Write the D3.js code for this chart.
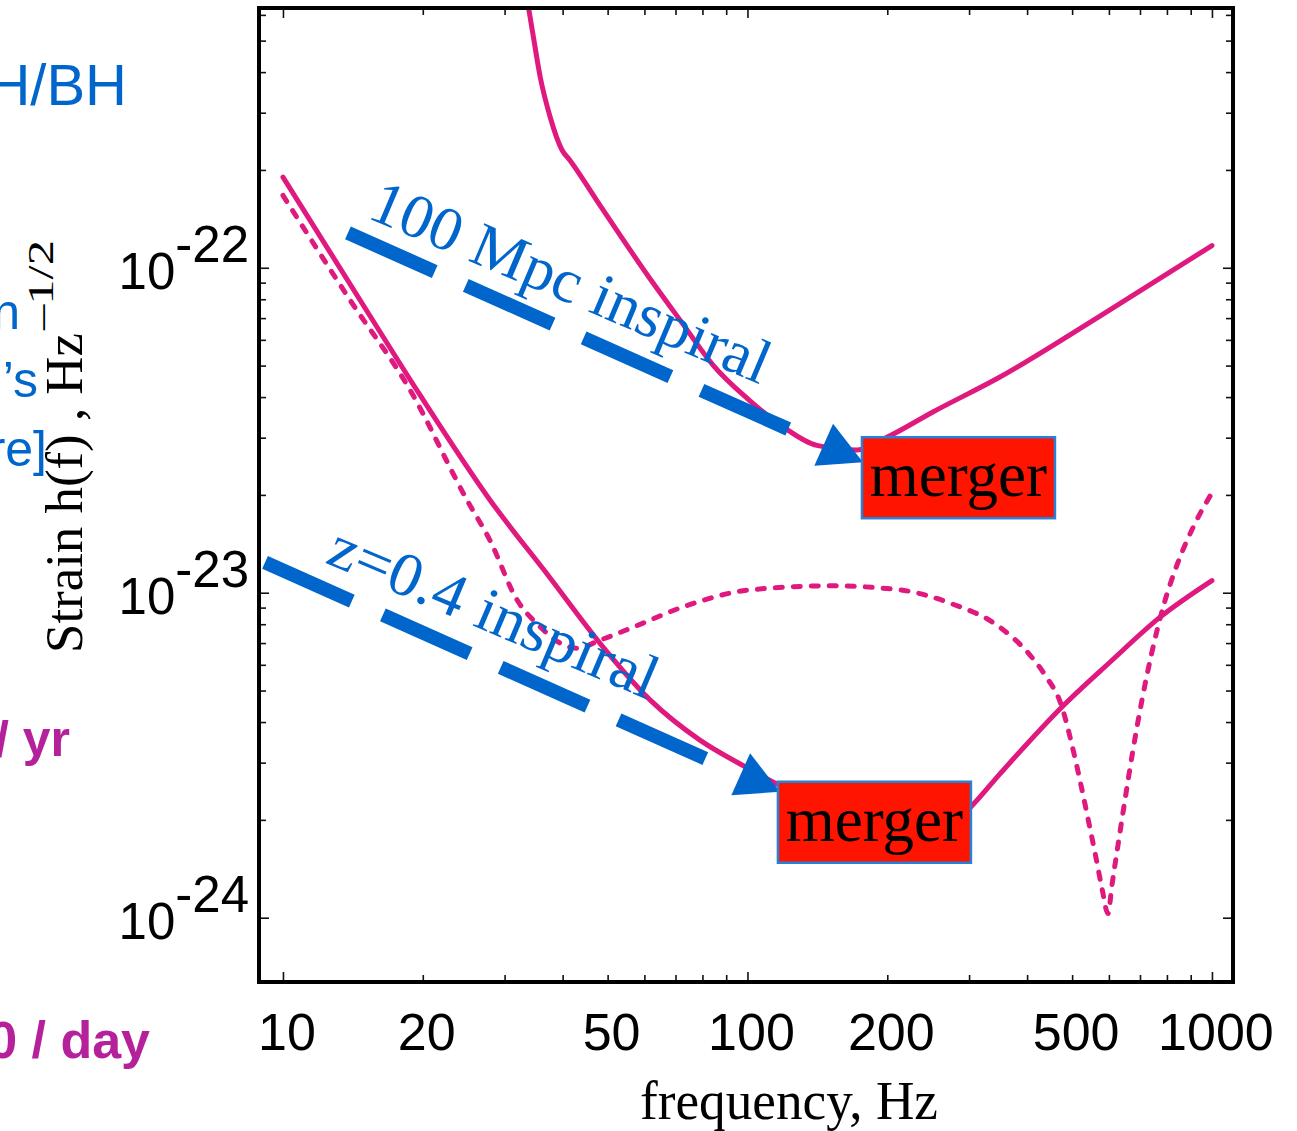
<!DOCTYPE html>
<html><head><meta charset="utf-8">
<script src="https://cdn.jsdelivr.net/npm/d3@7"></script>
<style>html,body{margin:0;padding:0;background:#fff;overflow:hidden}svg{display:block}</style>
</head><body>
<svg id="chart" width="1297" height="1131"></svg>
<script>
// ---------- data ----------
const xTickValues = [10, 20, 50, 100, 200, 500, 1000];
const xTickLabels = ["10", "20", "50", "100", "200", "500", "1000"];
const xMinorTicks = [10,20,30,40,50,60,70,80,90,100,200,300,400,500,600,700,800,900,1000];
const yTickValues = [1e-24, 1e-23, 1e-22];
const yTickExponents = ["-24", "-23", "-22"];

// initial detector noise curve (upper solid)
const initialFreq = [32.9,33.7,34.5,35.8,37.6,39.9,41.5,47.4,61.7,71.6,84.3,99.7,119.3,141.1,172.1,199.7,250.8,349.6,574,1000];
const initialStrain = [7.67e-22,6.43e-22,5.27e-22,3.86e-22,2.91e-22,2.30e-22,2.14e-22,1.61e-22,9.25e-23,6.90e-23,5.02e-23,3.97e-23,3.24e-23,2.84e-23,2.75e-23,3.01e-23,3.60e-23,4.61e-23,7.10e-23,1.17e-22];

// advanced detector noise curve (lower solid)
const advancedFreq = [10,14.65,19.72,27.9,37.6,48.1,61.7,79.0,97.8,129.7,174.7,279.8,304.3,349.6,475.4,603,773.3,1000];
const advancedStrain = [1.90e-22,7.96e-23,4.06e-23,1.93e-23,1.11e-23,7.00e-24,4.68e-24,3.52e-24,2.94e-24,2.39e-24,2.14e-24,1.97e-24,2.21e-24,2.77e-24,4.45e-24,6.11e-24,8.41e-24,1.09e-23];

// narrow-band configuration (dotted)
const dottedFreq = [10,13.94,18.77,24.89,27.9,31.9,35.8,39.5,42.96,48.1,56.7,72.6,101.2,150.5,213,272.9,349.6,405.7,437.1,475.4,499.6,522.4,543.6,562.8,579.8,597.3,609.2,627.6,649.6,676.1,707.0,742.7,788.5,845.0,914.8,1000];
const dottedStrain = [1.67e-22,7.96e-23,4.21e-23,1.93e-23,1.45e-23,9.51e-24,7.85e-24,7.00e-24,6.75e-24,7.14e-24,7.83e-24,9.04e-24,1.02e-23,1.05e-23,1.02e-23,9.29e-24,7.83e-24,6.43e-24,5.58e-24,4.45e-24,3.40e-24,2.56e-24,1.95e-24,1.53e-24,1.23e-24,1.03e-24,1.26e-24,1.67e-24,2.30e-24,3.28e-24,4.68e-24,6.57e-24,9.23e-24,1.24e-23,1.61e-23,2.03e-23];

// annotations (data coordinates: frequency, strain)
const inspiralLabels = ["100 Mpc inspiral", "z=0.4 inspiral"];
const inspiralLabelAnchor = [[15.09, 1.43e-22], [12.25, 1.24e-23]];
const arrowStart = [[13.8, 1.28e-22], [9.15, 1.24e-23]];
const arrowTip = [[177.3, 2.52e-23], [117.5, 2.44e-24]];
const mergerLabel = ["merger", "merger"];
const mergerCorner = [[176.4, 3.01e-23], [116.3, 2.62e-24]];

// slide text fragments cut at the left edge
const sideTextBlue = ["H/BH", "n", "\u2019s", "re]"];
const sideTextMagenta = ["/ yr", "0 / day"];

// ---------- drawing ----------
const svg = d3.select("#chart");
const P = {left: 259, top: 8, right: 1233, bottom: 982};
const x = d3.scaleLog().domain([8.88, 1110]).range([P.left, P.right]);
const y = d3.scaleLog().domain([6.34e-25, 6.30e-22]).range([P.bottom, P.top]);

const PINK = "#e0197f", BLUE = "#0066cc", MAG = "#b5209b";
const sans = "'Liberation Sans', Arial, Helvetica, sans-serif";
const serif = "'Liberation Serif', 'Times New Roman', serif";

// side fragments
const blueSpecs = [[127, 105, 58], [20, 329, 50], [38, 397, 50], [47, 466, 50]];
sideTextBlue.forEach((t, i) => {
  svg.append("text").attr("x", blueSpecs[i][0]).attr("y", blueSpecs[i][1])
    .attr("text-anchor", "end").attr("font-family", sans).attr("font-size", blueSpecs[i][2])
    .attr("fill", BLUE).text(t);
});
const magSpecs = [[70, 756, 50], [150, 1058, 52]];
sideTextMagenta.forEach((t, i) => {
  svg.append("text").attr("x", magSpecs[i][0]).attr("y", magSpecs[i][1])
    .attr("text-anchor", "end").attr("font-family", sans).attr("font-weight", "bold")
    .attr("font-size", magSpecs[i][2]).attr("fill", MAG).text(t);
});

// clip
svg.append("clipPath").attr("id", "plotClip").append("rect")
  .attr("x", P.left).attr("y", P.top).attr("width", P.right - P.left).attr("height", P.bottom - P.top);

const line = d3.line().x(d => x(d[0])).y(d => y(d[1])).curve(d3.curveMonotoneX);
const curves = svg.append("g").attr("clip-path", "url(#plotClip)");
curves.append("path").datum(d3.zip(initialFreq, initialStrain)).attr("d", line)
  .attr("fill", "none").attr("stroke", PINK).attr("stroke-width", 5).attr("stroke-linecap", "round");
curves.append("path").datum(d3.zip(advancedFreq, advancedStrain)).attr("d", line)
  .attr("fill", "none").attr("stroke", PINK).attr("stroke-width", 5).attr("stroke-linecap", "round");
curves.append("path").datum(d3.zip(dottedFreq, dottedStrain)).attr("d", line)
  .attr("fill", "none").attr("stroke", PINK).attr("stroke-width", 5)
  .attr("stroke-dasharray", "7,11").attr("stroke-linecap", "round");

// arrows
arrowStart.forEach((s, i) => {
  const p0 = [x(s[0]), y(s[1])];
  const p1 = [x(arrowTip[i][0]), y(arrowTip[i][1])];
  const dx = p1[0] - p0[0], dy = p1[1] - p0[1];
  const L = Math.hypot(dx, dy);
  const u = [dx / L, dy / L], n = [-u[1], u[0]];
  const endLen = L - 77;
  svg.append("line").attr("x1", p0[0]).attr("y1", p0[1])
    .attr("x2", p0[0] + u[0] * endLen).attr("y2", p0[1] + u[1] * endLen)
    .attr("stroke", BLUE).attr("stroke-width", 14).attr("stroke-dasharray", "95,34");
  const b = [p1[0] - u[0] * 43, p1[1] - u[1] * 43];
  const tri = [[p1[0], p1[1]], [b[0] + n[0] * 23, b[1] + n[1] * 23], [b[0] - n[0] * 23, b[1] - n[1] * 23]];
  svg.append("polygon").attr("points", tri.map(p => p.join(",")).join(" ")).attr("fill", BLUE);
});

// inspiral labels
const labelLen = [428, 352];
inspiralLabels.forEach((t, i) => {
  const a = inspiralLabelAnchor[i];
  svg.append("text")
    .attr("transform", `translate(${x(a[0])},${y(a[1])}) rotate(23)`)
    .attr("font-family", serif).attr("font-size", 62).attr("fill", BLUE)
    .attr("textLength", labelLen[i]).attr("lengthAdjust", "spacingAndGlyphs")
    .text(t);
});

// merger boxes
mergerCorner.forEach((c, i) => {
  const bx = x(c[0]), by = y(c[1]);
  svg.append("rect").attr("x", bx).attr("y", by).attr("width", 193).attr("height", 81)
    .attr("fill", "#ff1400").attr("stroke", "#2a7fd6").attr("stroke-width", 2.5);
  svg.append("text").attr("x", bx + 96.5).attr("y", by + 59).attr("text-anchor", "middle")
    .attr("font-family", serif).attr("font-size", 63).attr("fill", "#000").text(mergerLabel[i]);
});

// ticks
const yMinor = [];
[-24, -23, -22].forEach(e => { for (let k = 1; k <= 9; k++) { const v = k * Math.pow(10, e); if (v <= y.domain()[1]) yMinor.push(v); } });
const isMajorX = d => [10, 100, 1000].includes(d);
const isMajorY = d => yTickValues.some(v => Math.abs(v - d) / v < 1e-6);
function styleAxis(g, majorFn, len, minorLen, attr) {
  g.select(".domain").remove();
  g.selectAll(".tick line").attr("stroke", "#111").attr("stroke-width", 1.6)
    .attr(attr, d => majorFn(d) ? len : minorLen);
  g.selectAll(".tick text").remove();
}
const gB = svg.append("g").attr("transform", `translate(0,${P.bottom})`)
  .call(d3.axisBottom(x).tickValues(xMinorTicks).tickSizeOuter(0).tickFormat(""));
styleAxis(gB, isMajorX, -10, -7, "y2");
const gT = svg.append("g").attr("transform", `translate(0,${P.top})`)
  .call(d3.axisTop(x).tickValues(xMinorTicks).tickSizeOuter(0).tickFormat(""));
styleAxis(gT, isMajorX, 10, 7, "y2");
const gL = svg.append("g").attr("transform", `translate(${P.left},0)`)
  .call(d3.axisLeft(y).tickValues(yMinor).tickSizeOuter(0).tickFormat(""));
styleAxis(gL, isMajorY, 10, 7, "x2");
const gR = svg.append("g").attr("transform", `translate(${P.right},0)`)
  .call(d3.axisRight(y).tickValues(yMinor).tickSizeOuter(0).tickFormat(""));
styleAxis(gR, isMajorY, -10, -7, "x2");

// frame
svg.append("rect").attr("x", P.left).attr("y", P.top).attr("width", P.right - P.left)
  .attr("height", P.bottom - P.top).attr("fill", "none").attr("stroke", "#000").attr("stroke-width", 4);

// x tick labels
xTickValues.forEach((v, i) => {
  svg.append("text").attr("x", x(v) + 4).attr("y", 1050).attr("text-anchor", "middle")
    .attr("font-family", sans).attr("font-size", 52).attr("fill", "#000").text(xTickLabels[i]);
});
// y tick labels
yTickValues.forEach((v, i) => {
  const t = svg.append("text").attr("x", 249).attr("y", y(v) + 21).attr("text-anchor", "end")
    .attr("font-family", sans).attr("font-size", 51).attr("fill", "#000");
  t.append("tspan").text("10");
  t.append("tspan").attr("dy", -27).text(yTickExponents[i]);
});

// axis titles
svg.append("text").attr("x", 640).attr("y", 1119).attr("font-family", serif).attr("font-size", 54)
  .attr("textLength", 298).attr("lengthAdjust", "spacingAndGlyphs").attr("fill", "#000").text("frequency, Hz");
const yt = svg.append("g").attr("transform", "translate(82,653) rotate(-90)");
yt.append("text").attr("x", 0).attr("y", 0).attr("font-family", serif).attr("font-size", 53)
  .attr("textLength", 320).attr("lengthAdjust", "spacingAndGlyphs").attr("fill", "#000").text("Strain h(f) , Hz");
yt.append("text").attr("x", 323).attr("y", -29).attr("font-family", serif).attr("font-size", 36)
  .attr("textLength", 90).attr("lengthAdjust", "spacingAndGlyphs").attr("fill", "#000").text("\u20131/2");
</script>
</body></html>
